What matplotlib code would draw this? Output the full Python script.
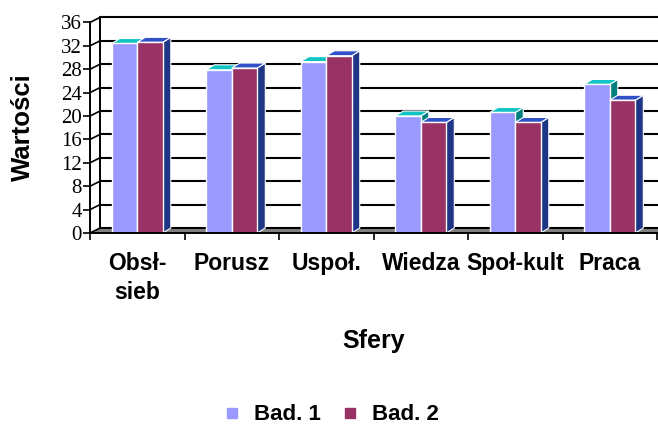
import matplotlib
matplotlib.use('Agg')
import matplotlib.pyplot as plt
from matplotlib.patches import Polygon
from matplotlib.lines import Line2D
import numpy as np

# dane
categories = ['Obsł-\nsieb', 'Porusz', 'Uspoł.', 'Wiedza', 'Społ-kult', 'Praca']
bad1 = [32.4, 27.9, 29.3, 20.0, 20.6, 25.4]
bad2 = [32.6, 28.2, 30.3, 18.9, 18.9, 22.7]
series_names = ['Bad. 1', 'Bad. 2']
yticks = list(range(0, 37, 4))

# kolory: przod, gora, bok
front_cols = ['#9999FF', '#993366']
top_cols = ['#10C4C4', '#2F50C6']
side_cols = ['#008080', '#1F3585']

W, H = 658, 428
px_y = 5.85  # pikseli na jednostke
fig = plt.figure(figsize=(W / 100, H / 100), dpi=100)
ax = fig.add_axes([90 / W, 195 / H, 567 / W, 37 * px_y / H])
ax.set_xlim(0, 6)
ax.set_ylim(0, 37)

n = len(categories)
wall_dx, wall_dy = 0.106, 0.85   # przesuniecie tylnej sciany
bar_dx, bar_dy = 0.085, 0.85     # glebokosc slupkow
bw = 0.27

# podloga
ax.add_patch(Polygon([(0, 0), (n + 1, 0), (n + 1 + wall_dx, wall_dy), (wall_dx, wall_dy)],
                     closed=True, facecolor='#808080', edgecolor='none', zorder=1, clip_on=False))
# linie siatki na tylnej scianie
for v in yticks:
    ax.plot([wall_dx, n + 1], [v + wall_dy, v + wall_dy], color='black', lw=1.5,
            zorder=2, clip_on=False, solid_capstyle='butt')
    ax.plot([0, wall_dx], [v, v + wall_dy], color='black', lw=1.2, zorder=2, clip_on=False)
ax.plot([wall_dx, wall_dx], [wall_dy, yticks[-1] + wall_dy], color='black', lw=1.4,
        zorder=2, clip_on=False)

# slupki 3D
centers = np.arange(n) + 0.5
for s, vals in enumerate([bad1, bad2]):
    xs = centers + (s - 0.5) * bw
    for x, h in zip(xs, vals):
        xl, xr = x - bw / 2, x + bw / 2
        ax.add_patch(Polygon([(xr, 0), (xr + bar_dx, bar_dy), (xr + bar_dx, h + bar_dy), (xr, h)],
                             closed=True, facecolor=side_cols[s], edgecolor='white',
                             lw=0.8, zorder=3 + 2 * s))
        ax.add_patch(Polygon([(xl, h), (xr, h), (xr + bar_dx, h + bar_dy), (xl + bar_dx, h + bar_dy)],
                             closed=True, facecolor=top_cols[s], edgecolor='white',
                             lw=0.8, zorder=3 + 2 * s))
    ax.bar(xs, vals, width=bw, color=front_cols[s], edgecolor='white', lw=1,
           zorder=4 + 2 * s, label=series_names[s])

# osie
for sp in ['top', 'right']:
    ax.spines[sp].set_visible(False)
ax.spines['left'].set_bounds(0, 36)
ax.spines['left'].set_linewidth(1.4)
ax.spines['bottom'].set_linewidth(1.4)
ax.spines['left'].set_zorder(8)
ax.spines['bottom'].set_zorder(8)

ax.set_yticks(yticks)
ax.set_yticklabels([str(v) for v in yticks], fontfamily='Liberation Serif', fontsize=15)
ax.tick_params(axis='y', length=5, width=1.2, pad=1)

ax.set_xticks(np.arange(n + 1))
ax.set_xticklabels([])
ax.tick_params(axis='x', which='major', length=5, width=1.2)
ax.set_xticks(centers, minor=True)
ax.set_xticklabels(categories, minor=True, fontfamily='Liberation Sans', fontweight='bold',
                   fontsize=16.5, linespacing=1.3)
ax.tick_params(axis='x', which='minor', length=0, pad=14)

fig.text(23 / W, 1 - 127 / H, 'Wartości', rotation=90, ha='center', va='center',
         fontfamily='Liberation Sans', fontweight='bold', fontsize=18.5)
fig.text(374 / W, 1 - 348 / H, 'Sfery', ha='center', va='baseline',
         fontfamily='Liberation Sans', fontweight='bold', fontsize=18)

handles = [Line2D([], [], marker='s', ls='none', color=c, markersize=6.5) for c in front_cols]
fig.legend(handles, series_names, loc='center', bbox_to_anchor=(330 / W, 13 / H), ncol=2,
           frameon=False, handletextpad=0.5, columnspacing=0.8, handlelength=1,
           prop={'family': 'Liberation Sans', 'weight': 'bold', 'size': 16})

fig.savefig('out.png', dpi=100)
